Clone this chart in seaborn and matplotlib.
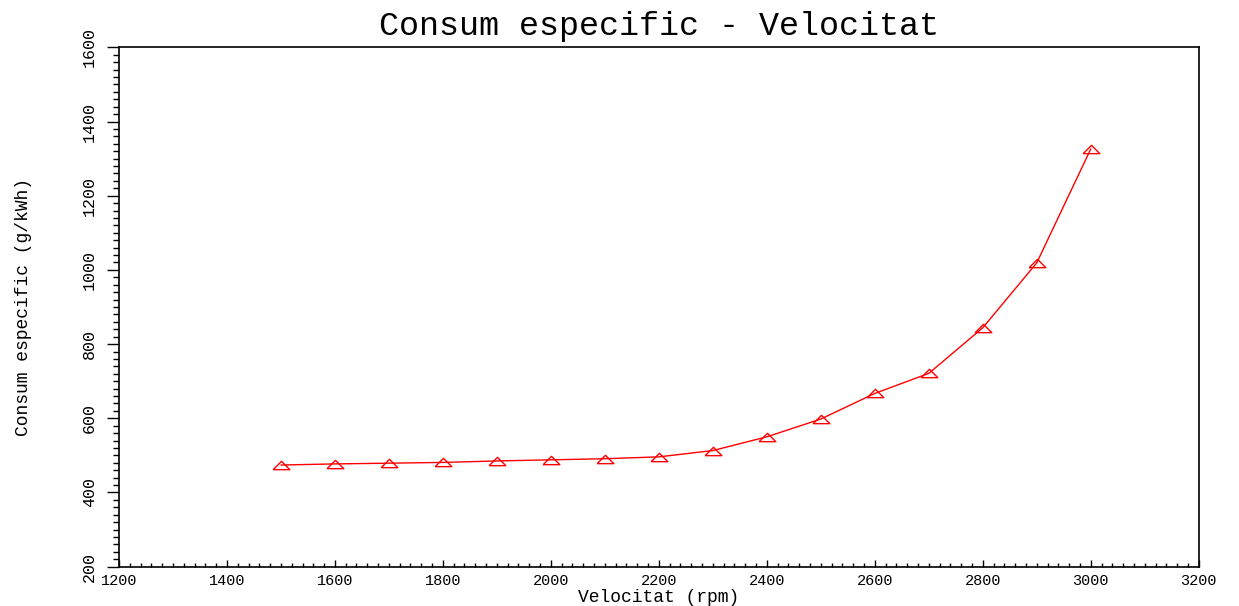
import matplotlib
matplotlib.use("Agg")
import matplotlib.pyplot as plt
from matplotlib.ticker import MultipleLocator
import seaborn as sns
import pandas as pd

# Engine speed (rpm) and specific fuel consumption (g/kWh)
velocitat = [1500, 1600, 1700, 1800, 1900, 2000, 2100, 2200,
             2300, 2400, 2500, 2600, 2700, 2800, 2900, 3000]
consum = [474, 477, 479, 481, 485, 488, 491, 496,
          513, 550, 598, 667, 721, 844, 1019, 1326]

x_ticks = [1200, 1400, 1600, 1800, 2000, 2200, 2400, 2600, 2800, 3000, 3200]
y_ticks = [200, 400, 600, 800, 1000, 1200, 1400, 1600]

titol = "Consum especific - Velocitat"
etiqueta_x = "Velocitat (rpm)"
etiqueta_y = "Consum especific (g/kWh)"

df = pd.DataFrame({"velocitat": velocitat, "consum": consum})

sns.set_style("ticks")
plt.rcParams["font.family"] = ["DejaVu Sans Mono", "DejaVu Sans"]

fig = plt.figure(figsize=(12.39, 6.06), dpi=100)
ax = fig.add_axes([0.0960, 0.0649, 0.8715, 0.8570])

# flat, wide open triangle marker
tri = [(-2, -1), (2, -1), (0, 1), (-2, -1)]

sns.lineplot(data=df, x="velocitat", y="consum", ax=ax, color="#ff0000",
             linewidth=1.0, marker=tri, markersize=12,
             markerfacecolor="none", markeredgecolor="#ff0000",
             markeredgewidth=1.0)

ax.set_xlim(x_ticks[0], x_ticks[-1])
ax.set_ylim(y_ticks[0], y_ticks[-1])
ax.set_xticks(x_ticks)
ax.set_yticks(y_ticks)
ax.xaxis.set_minor_locator(MultipleLocator(20))
ax.yaxis.set_minor_locator(MultipleLocator(20))

for side in ["left", "right", "top", "bottom"]:
    ax.spines[side].set_visible(True)
    ax.spines[side].set_color("black")
    ax.spines[side].set_linewidth(1.2)

ax.tick_params(axis="x", which="both", bottom=True, top=False)
ax.tick_params(axis="y", which="both", left=True, right=False)
ax.tick_params(axis="x", which="major", direction="in", length=5, width=1,
               pad=5, labelsize=11, colors="black")
ax.tick_params(axis="x", which="minor", direction="in", length=3, width=1,
               colors="black")
ax.tick_params(axis="y", which="major", direction="out", length=9, width=1,
               pad=7, labelsize=12, labelrotation=90, colors="black")
ax.tick_params(axis="y", which="minor", direction="out", length=4.5, width=1,
               colors="black")
for lab in ax.get_yticklabels():
    lab.set_va("center")
    lab.set_family(["Liberation Mono", "DejaVu Sans"])
for lab in ax.get_xticklabels():
    lab.set_family(["Liberation Mono", "DejaVu Sans"])

ax.set_title(titol, fontsize=24, pad=9, color="black",
             family=["Liberation Mono", "DejaVu Sans"])
ax.set_xlabel(etiqueta_x, fontsize=13, labelpad=1, color="black",
              family=["Liberation Mono", "DejaVu Sans"])
ax.set_ylabel(etiqueta_y, fontsize=13, labelpad=36, color="black",
              family=["Liberation Mono", "DejaVu Sans"])

fig.savefig("out.png", dpi=100, facecolor="white")
